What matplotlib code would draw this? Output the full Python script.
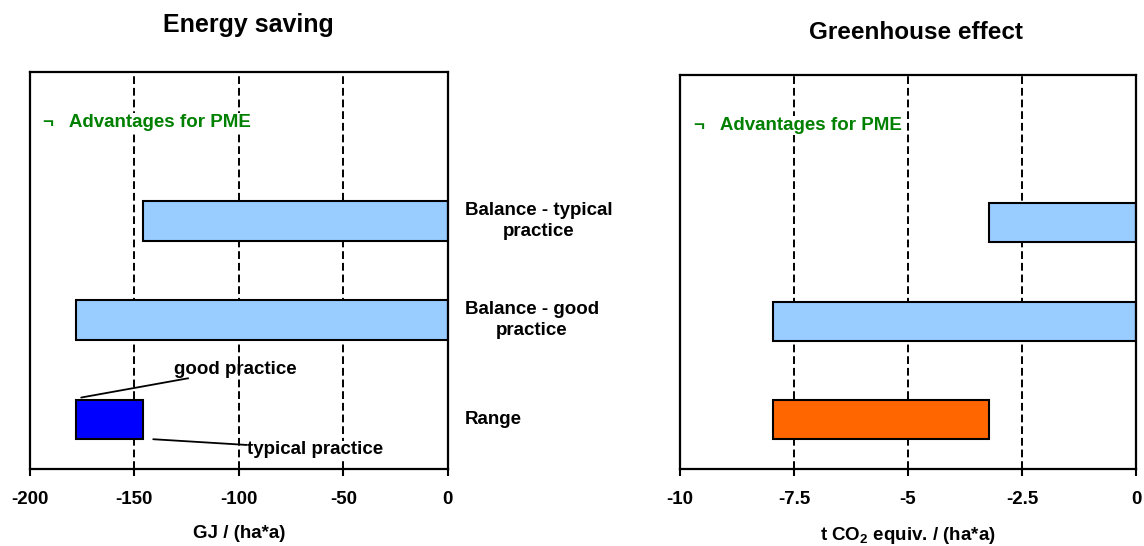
import numpy as np
import matplotlib.pyplot as plt
from matplotlib.transforms import blended_transform_factory

plt.rcParams['font.family'] = ['Liberation Sans', 'DejaVu Sans']
plt.rcParams['font.weight'] = 'bold'
plt.rcParams['mathtext.fontset'] = 'custom'
plt.rcParams['mathtext.rm'] = 'Liberation Sans:bold'
plt.rcParams['mathtext.bf'] = 'Liberation Sans:bold'

# data
categories = ['Balance - typical\npractice', 'Balance - good\npractice', 'Range']
energy_typical = -146
energy_good = -178
ghg_typical = -3.23
ghg_good = -7.97

energy_ticks = [-200, -150, -100, -50, 0]
ghg_ticks = [-10, -7.5, -5, -2.5, 0]
ghg_ticklabels = ['-10', '-7.5', '-5', '-2.5', '0']

light_blue = '#99CCFF'
ypos = [3, 2, 1]
bar_h = 0.4
fs = 13.5

fig = plt.figure(figsize=(11.44, 5.46), dpi=100)
ax1 = fig.add_axes([30 / 1144, 77 / 546, 417.7 / 1144, 397 / 546])
ax2 = fig.add_axes([680 / 1144, 77 / 546, 456 / 1144, 394 / 546])


def style(ax, xmin, ticks, labels, xlabel, title, title_pad, title_size, title_x):
    ax.set_xlim(xmin, 0)
    ax.set_ylim(0.5, 4.5)
    ax.set_yticks([])
    ax.set_xticks(ticks)
    ax.set_xticklabels(labels, fontsize=fs, fontweight='bold')
    ax.tick_params(axis='x', direction='out', length=5, width=1.5, pad=11)
    for s in ax.spines.values():
        s.set_linewidth(1.6)
    for t in ticks[1:-1]:
        ax.axvline(t, color='black', lw=1.4, dashes=(4, 2), zorder=0)
    ax.set_xlabel(xlabel, fontsize=fs, fontweight='bold', labelpad=12)
    ax.set_title(title, fontsize=title_size, fontweight='bold', pad=title_pad, x=title_x)
    ax.text(0.03, 0.872, '¬   Advantages for PME', transform=ax.transAxes,
            color='#008000', fontsize=fs, fontweight='bold', va='center',
            bbox=dict(facecolor='white', edgecolor='none', pad=1), zorder=3)


style(ax1, -200, energy_ticks, [str(t) for t in energy_ticks],
      'GJ / (ha*a)', 'Energy saving', 29, 18, 0.522)
style(ax2, -10, ghg_ticks, ghg_ticklabels,
      r't CO$_{\mathbf{2}}$ equiv. / (ha*a)', 'Greenhouse effect', 26, 17.5, 0.518)

# energy bars
ax1.barh(ypos[0], energy_typical, height=bar_h, color=light_blue, edgecolor='black', lw=1.5, zorder=2)
ax1.barh(ypos[1], energy_good, height=bar_h, color=light_blue, edgecolor='black', lw=1.5, zorder=2)
ax1.barh(ypos[2], energy_typical - energy_good, left=energy_good, height=bar_h,
         color='#0000FF', edgecolor='black', lw=1.5, zorder=2)

# greenhouse bars
ax2.barh(ypos[0], ghg_typical, height=bar_h, color=light_blue, edgecolor='black', lw=1.5, zorder=2)
ax2.barh(ypos[1], ghg_good, height=bar_h, color=light_blue, edgecolor='black', lw=1.5, zorder=2)
ax2.barh(ypos[2], ghg_typical - ghg_good, left=ghg_good, height=bar_h,
         color='#FF6600', edgecolor='black', lw=1.5, zorder=2)

# category labels between the panels
tr = blended_transform_factory(ax1.transAxes, ax1.transData)
for y, c in zip(ypos, categories):
    ax1.text(1.041, y, c, transform=tr, ha='left', va='center', multialignment='center',
             fontsize=fs, fontweight='bold', linespacing=1.25, clip_on=False)

# range annotations
ax1.annotate('good practice', xy=(energy_good + 2.5, 1.22), xytext=(-131, 1.5),
             fontsize=fs, fontweight='bold', va='center', ha='left',
             arrowprops=dict(arrowstyle='-', color='black', lw=1.3, shrinkA=0, shrinkB=0),
             bbox=dict(facecolor='none', edgecolor='none', pad=0))
ax1.annotate('typical practice', xy=(energy_typical + 5, 0.8), xytext=(-96, 0.7),
             fontsize=fs, fontweight='bold', va='center', ha='left',
             arrowprops=dict(arrowstyle='-', color='black', lw=1.3, shrinkA=0, shrinkB=0),
             bbox=dict(facecolor='white', edgecolor='none', pad=0), zorder=3)

fig.savefig('out.png', dpi=100)
